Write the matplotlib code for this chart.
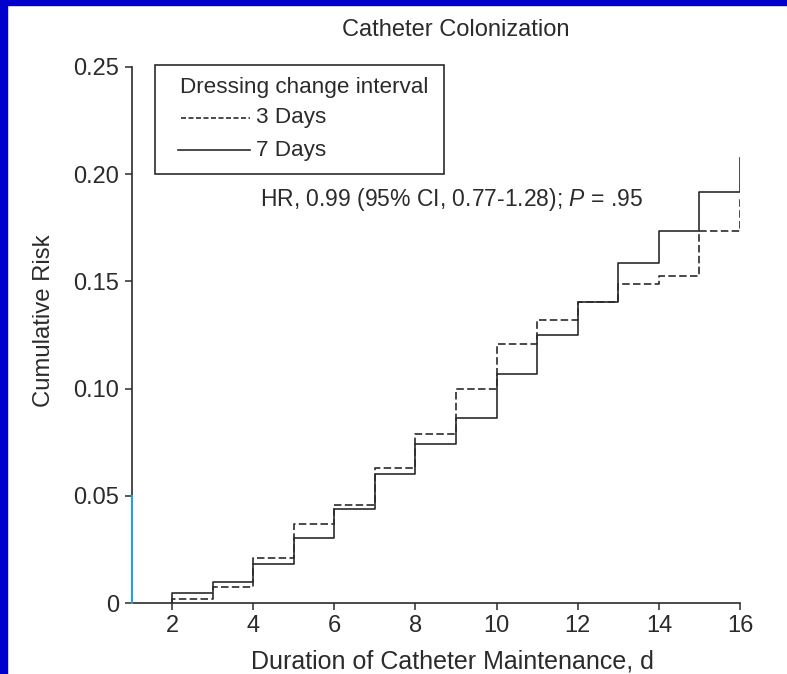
import matplotlib
matplotlib.use("Agg")
import matplotlib.pyplot as plt
from matplotlib.patches import Rectangle
import numpy as np

plt.rcParams['font.family'] = ['Liberation Sans', 'DejaVu Sans']
plt.rcParams['mathtext.fontset'] = 'custom'
plt.rcParams['mathtext.rm'] = 'Liberation Sans'
plt.rcParams['mathtext.it'] = 'Liberation Sans:italic'

# Cumulative risk, value on each day from day 2 to 16
days = [2, 3, 4, 5, 6, 7, 8, 9, 10, 11, 12, 13, 14, 15, 16]
risk_3_days = [0.0017, 0.0073, 0.0210, 0.0370, 0.0455, 0.0628, 0.0786, 0.0996,
               0.1206, 0.1322, 0.1404, 0.1487, 0.1524, 0.1735, 0.1890]
risk_7_days = [0.0048, 0.0099, 0.0180, 0.0303, 0.0437, 0.0601, 0.0743, 0.0861,
               0.1066, 0.1252, 0.1404, 0.1586, 0.1735, 0.1917, 0.2077]

x_ticks = [2, 4, 6, 8, 10, 12, 14, 16]
y_ticks = [0, 0.05, 0.10, 0.15, 0.20, 0.25]
y_tick_labels = ['0', '0.05', '0.10', '0.15', '0.20', '0.25']

title = "Catheter Colonization"
x_label = "Duration of Catheter Maintenance, d"
y_label = "Cumulative Risk"
legend_title = "Dressing change interval"
labels = ["3 Days", "7 Days"]
hr_text = r"HR, 0.99 (95% CI, 0.77-1.28); $P$ = .95"

ink = '#2b2b2b'
cyan = '#1aa6e8'

fig = plt.figure(figsize=(7.87, 6.74), dpi=100)
ax = fig.add_axes([0.1671, 0.10534, 0.7732, 0.7953])

# steps start from zero on day 2
x_steps = np.r_[days[0], days]
ax.step(x_steps, np.r_[0, risk_3_days], where='post', color=ink, lw=1.2,
        ls=(0, (4.5, 2)), zorder=2)
ax.step(x_steps, np.r_[0, risk_7_days], where='post', color=ink, lw=1.2, zorder=3)

ax.set_xlim(1, 16)
ax.set_ylim(0, 0.25)
ax.set_xticks(x_ticks)
ax.set_yticks(y_ticks)
ax.set_yticklabels(y_tick_labels)
ax.tick_params(colors=ink, labelcolor=ink, labelsize=17, length=5, width=1.1,
               direction='out')
ax.tick_params(axis='x', pad=3.5)
ax.tick_params(axis='y', pad=4)

for side in ['top', 'right']:
    ax.spines[side].set_visible(False)
for side in ['left', 'bottom']:
    ax.spines[side].set_color(ink)
    ax.spines[side].set_linewidth(1.2)

# the lower part of the y axis is drawn in cyan in the original
ax.plot([1, 1], [0, 0.05], color=cyan, lw=1.4, clip_on=False, zorder=5)
for t in ax.yaxis.get_major_ticks()[:2]:
    t.tick1line.set_color(cyan)

ax.set_xlabel(x_label, fontsize=18, color=ink, labelpad=9, x=0.528, ha='center')
fig.text(44 / 787, 1 - 321 / 674, y_label, rotation=90, fontsize=17.2,
         color=ink, ha='center', va='center')
fig.text(455.5 / 787, 1 - 30 / 674, title, fontsize=17, color=ink,
         ha='center', va='center')

ax.text(4.17, 0.188, hr_text, fontsize=16.5, color=ink, ha='left', va='center')

# legend box drawn by hand
ax.add_patch(Rectangle((0.0386, 0.8004), 0.475, 0.2033, transform=ax.transAxes,
                       fill=False, edgecolor=ink, lw=1.2, clip_on=False))
ax.text(0.0797, 0.9608, legend_title, transform=ax.transAxes, fontsize=16.2,
        color=ink, ha='left', va='center')
ax.plot([0.0813, 0.1947], [0.9049, 0.9049], transform=ax.transAxes, color=ink,
        lw=1.2, ls=(0, (3, 1.5)), clip_on=False)
ax.plot([0.0764, 0.1947], [0.8451, 0.8451], transform=ax.transAxes, color=ink,
        lw=1.2, clip_on=False)
ax.text(0.2046, 0.9049, labels[0], transform=ax.transAxes, fontsize=16.2,
        color=ink, ha='left', va='center')
ax.text(0.2046, 0.8451, labels[1], transform=ax.transAxes, fontsize=16.2,
        color=ink, ha='left', va='center')

# blue frame on top and left edge
fig.patches.append(Rectangle((0, 1 - 5 / 674), 1, 5 / 674, transform=fig.transFigure,
                             color='#0000cc', zorder=10))
fig.patches.append(Rectangle((0, 0), 7 / 787, 1, transform=fig.transFigure,
                             color='#0000cc', zorder=10))

fig.savefig('out.png', dpi=100)
